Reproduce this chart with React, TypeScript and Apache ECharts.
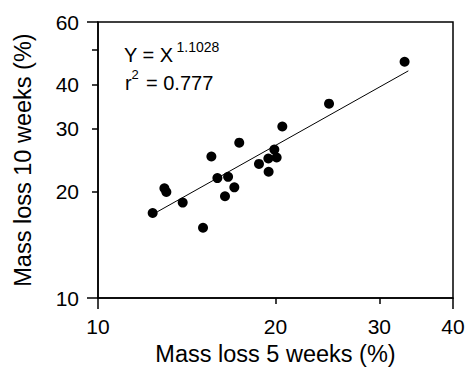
import React, { useEffect, useRef } from "react";
import * as echarts from "echarts";

const xTickValues = [20, 30];
const xLabelValues = [10, 20, 30, 40];
const yTickValues = [20, 30, 40, 50];
const yLabelValues = [10, 20, 30, 40, 60];
const xEndTicks = [10, 40];
const yEndTicks = [10, 60];

const massLoss5 = [12.38, 12.96, 13.06, 13.92, 15.07, 15.57, 15.94, 16.42, 16.62, 17.03, 17.36, 18.75, 19.45, 19.47, 19.91, 20.09, 20.54, 24.65, 33.11];
const massLoss10 = [17.37, 20.39, 19.91, 18.59, 15.79, 25.06, 21.79, 19.37, 21.97, 20.52, 27.42, 23.89, 24.74, 22.7, 26.22, 24.9, 30.45, 35.31, 46.37];

const fitX = [12.6, 33.6];
const fitY = [17.5, 43.7];

const FONT = "'Liberation Sans', Arial, sans-serif";

export default function App() {
  const ref = useRef<HTMLDivElement>(null);
  useEffect(() => {
    if (!ref.current) return;
    const chart = echarts.init(ref.current, null, { renderer: "svg" });
    const axisLine = { show: true, lineStyle: { color: "#000", width: 1.5 } };
    const tickStyle = { color: "#000", width: 1.5 };
    chart.setOption({
      animation: false,
      textStyle: { fontFamily: FONT },
      grid: {
        left: 98,
        right: 19,
        top: 22,
        bottom: 71,
        show: true,
        borderColor: "#000",
        borderWidth: 1.5,
        backgroundColor: "transparent",
      },
      xAxis: [
        {
          type: "log",
          logBase: 10,
          min: 10,
          max: 40,
          position: "bottom",
          axisLine,
          axisTick: { show: true, inside: false, length: 6, customValues: xTickValues, lineStyle: tickStyle },
          axisLabel: { show: true, customValues: xLabelValues, fontSize: 21, color: "#000", margin: 18, fontFamily: FONT },
          splitLine: { show: false },
          minorTick: { show: false },
          name: "Mass loss 5 weeks (%)",
          nameLocation: "middle",
          nameGap: 43,
          nameTextStyle: { fontSize: 23.5, color: "#000", fontFamily: FONT },
        },
        {
          type: "log",
          logBase: 10,
          min: 10,
          max: 40,
          position: "bottom",
          axisLine: { show: false },
          axisTick: { show: true, inside: false, length: 11, customValues: xEndTicks, lineStyle: tickStyle },
          axisLabel: { show: false },
          splitLine: { show: false },
        },
      ],
      yAxis: [
        {
          type: "log",
          logBase: 10,
          min: 10,
          max: 60,
          position: "left",
          axisLine,
          axisTick: { show: true, inside: false, length: 6, customValues: yTickValues, lineStyle: tickStyle },
          axisLabel: { show: true, customValues: yLabelValues, fontSize: 21, color: "#000", margin: 19, fontFamily: FONT },
          splitLine: { show: false },
          minorTick: { show: false },
          name: "Mass loss 10 weeks (%)",
          nameLocation: "middle",
          nameGap: 63,
          nameTextStyle: { fontSize: 23.5, color: "#000", fontFamily: FONT },
        },
        {
          type: "log",
          logBase: 10,
          min: 10,
          max: 60,
          position: "left",
          axisLine: { show: false },
          axisTick: { show: true, inside: false, length: 11, customValues: yEndTicks, lineStyle: tickStyle },
          axisLabel: { show: false },
          splitLine: { show: false },
        },
      ],
      series: [
        {
          type: "line",
          xAxisIndex: 0,
          yAxisIndex: 0,
          data: fitX.map((x, i) => [x, fitY[i]]),
          symbol: "none",
          lineStyle: { color: "#000", width: 1 },
          silent: true,
        },
        {
          type: "scatter",
          xAxisIndex: 0,
          yAxisIndex: 0,
          data: massLoss5.map((x, i) => [x, massLoss10[i]]),
          symbol: "circle",
          symbolSize: 10,
          itemStyle: { color: "#000", opacity: 1 },
        },
      ],
      graphic: [
        { type: "text", x: 124, y: 54.5, style: { text: "Y = X", font: `20px ${FONT}`, lineHeight: 15, fill: "#000", textVerticalAlign: "middle" } },
        { type: "text", x: 176.5, y: 46.5, style: { text: "1.1028", font: `14px ${FONT}`, lineHeight: 10, fill: "#000", textVerticalAlign: "middle" } },
        { type: "text", x: 125, y: 83, style: { text: "r", font: `20px ${FONT}`, lineHeight: 15, fill: "#000", textVerticalAlign: "middle" } },
        { type: "text", x: 131.5, y: 74, style: { text: "2", font: `13px ${FONT}`, lineHeight: 10, fill: "#000", textVerticalAlign: "middle" } },
        { type: "text", x: 146, y: 83, style: { text: "= 0.777", font: `20px ${FONT}`, lineHeight: 15, fill: "#000", textVerticalAlign: "middle" } },
      ],
    });
    return () => chart.dispose();
  }, []);
  return <div ref={ref} style={{ width: 472, height: 371, position: "absolute", left: 0, top: 0 }} />;
}
